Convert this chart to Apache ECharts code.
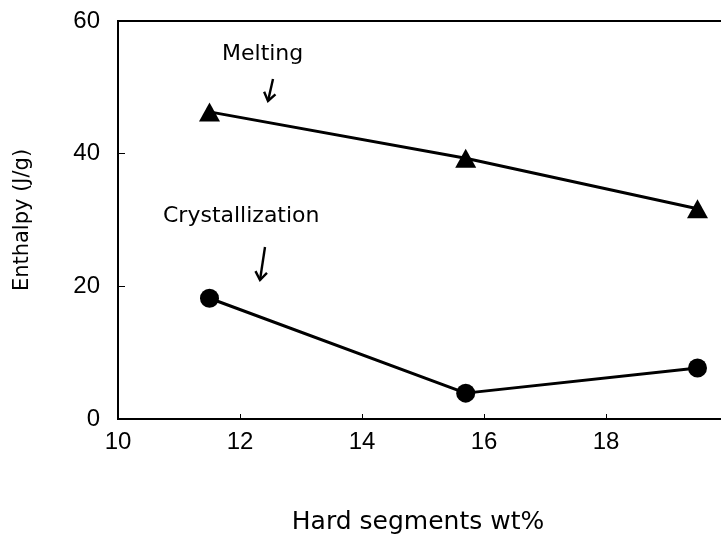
<!DOCTYPE html>
<html>
<head>
<meta charset="utf-8">
<script src="https://cdn.jsdelivr.net/npm/echarts@6/dist/echarts.min.js"></script>
<style>
  html, body { margin: 0; padding: 0; background: #fff; }
  #chart { width: 721px; height: 540px; }
</style>
</head>
<body>
<div id="chart"></div>
<script>
// Hard segment content (wt%) of the samples
const hardSegments = [11.5, 15.7, 19.5];
// Enthalpy values (J/g)
const meltingEnthalpy = [46.3, 39.3, 31.7];
const crystallizationEnthalpy = [18.2, 3.9, 7.7];
// Axis ranges
const xTicks = [10, 12, 14, 16, 18, 20];
const yTicks = [0, 20, 40, 60];

const numFont = '"Liberation Sans", Arial, Helvetica, sans-serif';
const wordFont = '"DejaVu Sans", Verdana, sans-serif';
const chart = echarts.init(document.getElementById('chart'));

function pairs(xs, ys) { return xs.map((x, i) => [x, ys[i]]); }

// Annotation arrow: shaft plus two head strokes
function arrow(x1, y1, x2, y2) {
  const ang = Math.atan2(y2 - y1, x2 - x1);
  const len = 10, spread = 0.62;
  const h1 = [x2 - len * Math.cos(ang - spread), y2 - len * Math.sin(ang - spread)];
  const h2 = [x2 - len * Math.cos(ang + spread), y2 - len * Math.sin(ang + spread)];
  return [
    { type: 'line', shape: { x1, y1, x2, y2 }, style: { stroke: '#000', lineWidth: 2.4 } },
    { type: 'polyline', shape: { points: [h1, [x2, y2], h2] }, style: { stroke: '#000', lineWidth: 2.4, fill: null, lineJoin: 'miter' } }
  ];
}

chart.setOption({
  animation: false,
  backgroundColor: '#fff',
  grid: {
    left: 118, top: 21, width: 610, bottom: 121,
    containLabel: false, outerBoundsMode: 'none',
    show: true, borderColor: '#000', borderWidth: 2, backgroundColor: 'transparent'
  },
  xAxis: {
    type: 'value', min: xTicks[0], max: xTicks[xTicks.length - 1], interval: 2,
    name: 'Hard segments wt%', nameLocation: 'middle', nameGap: 91,
    nameTextStyle: { fontFamily: wordFont, fontSize: 25, color: '#000', padding: [0, 10, 0, 0] },
    axisLine: { show: true, lineStyle: { color: '#000', width: 2 } },
    axisTick: { show: true, inside: true, length: 5, lineStyle: { color: '#000', width: 1 } },
    axisLabel: { fontFamily: numFont, fontSize: 24, color: '#000', margin: 11, showMaxLabel: false },
    splitLine: { show: false }
  },
  yAxis: {
    type: 'value', min: yTicks[0], max: yTicks[yTicks.length - 1], interval: 20,
    name: 'Enthalpy (J/g)', nameLocation: 'middle', nameGap: 85, nameRotate: 90,
    nameTextStyle: { fontFamily: wordFont, fontSize: 21, color: '#000' },
    axisLine: { show: true, lineStyle: { color: '#000', width: 2 } },
    axisTick: { show: true, inside: true, length: 7, lineStyle: { color: '#000', width: 1 } },
    axisLabel: { fontFamily: numFont, fontSize: 24, color: '#000', margin: 18 },
    splitLine: { show: false }
  },
  series: [
    {
      name: 'Melting', type: 'line', data: pairs(hardSegments, meltingEnthalpy),
      symbol: 'triangle', symbolSize: [21, 19],
      lineStyle: { color: '#000', width: 3 }, itemStyle: { color: '#000' }
    },
    {
      name: 'Crystallization', type: 'line', data: pairs(hardSegments, crystallizationEnthalpy),
      symbol: 'circle', symbolSize: 19,
      lineStyle: { color: '#000', width: 3 }, itemStyle: { color: '#000' }
    }
  ],
  graphic: [
    { type: 'text', x: 222, y: 54, style: { text: 'Melting', font: '22px ' + wordFont, fill: '#000', verticalAlign: 'middle' } },
    { type: 'text', x: 163, y: 216, style: { text: 'Crystallization', font: '22px ' + wordFont, fill: '#000', verticalAlign: 'middle' } },
    { type: 'group', children: arrow(273, 79, 268, 101) },
    { type: 'group', children: arrow(265, 247, 260, 280) }
  ]
});
</script>
</body>
</html>
